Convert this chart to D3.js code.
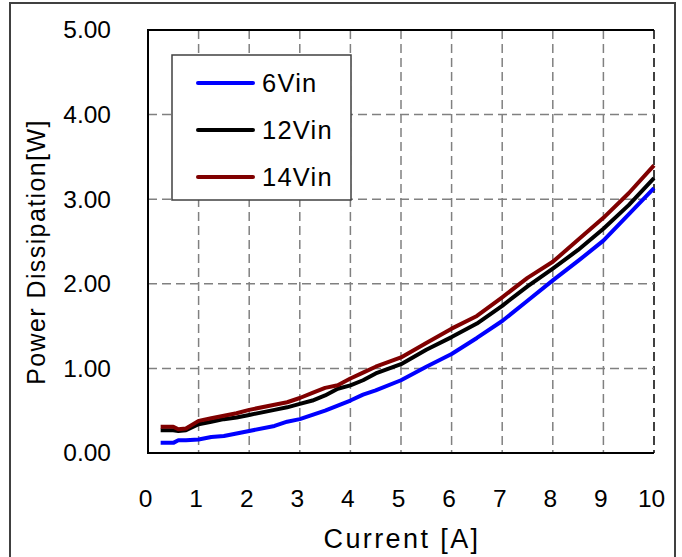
<!DOCTYPE html>
<html><head><meta charset="utf-8">
<script src="https://cdn.jsdelivr.net/npm/d3@7"></script>
<style>
html,body{margin:0;padding:0;background:#fff;}
svg text{font-family:"Liberation Sans",Arial,sans-serif;fill:#000;}
</style></head>
<body><svg id="c" width="682" height="557"></svg>
<script>
const current = [0.25,0.5,0.6,0.75,1,1.25,1.5,1.75,2,2.5,2.75,3,3.25,3.5,3.75,4,4.25,4.5,5,5.5,6,6.5,7,7.5,8,8.5,9,9.5,10];
const v6  = [0.12,0.12,0.15,0.15,0.16,0.19,0.20,0.23,0.26,0.32,0.37,0.40,0.45,0.50,0.56,0.62,0.69,0.74,0.86,1.02,1.17,1.36,1.56,1.80,2.04,2.27,2.51,2.82,3.13];
const v12 = [0.27,0.27,0.26,0.27,0.34,0.37,0.40,0.42,0.45,0.51,0.54,0.58,0.62,0.68,0.76,0.80,0.86,0.94,1.05,1.22,1.37,1.53,1.74,1.97,2.18,2.40,2.65,2.93,3.25];
const v14 = [0.31,0.31,0.28,0.29,0.38,0.41,0.44,0.47,0.51,0.57,0.60,0.65,0.71,0.77,0.80,0.88,0.95,1.02,1.13,1.30,1.47,1.62,1.84,2.07,2.26,2.52,2.78,3.07,3.40];
const seriesNames = ["6Vin","12Vin","14Vin"];
const seriesColors = ["#0000ff","#000000","#800000"];
const xTicks = [0,1,2,3,4,5,6,7,8,9,10];
const yTicks = [0,1,2,3,4,5];
const xTitle = "Current [A]";
const yTitle = "Power Dissipation[W]";

const svg = d3.select("#c");
const L=148, R=654, T=30, B=453;
const x = d3.scaleLinear().domain([0,10]).range([L,R]);
const y = d3.scaleLinear().domain([0,5]).range([B,T]);

// outer frame
svg.append("rect").attr("x",10).attr("y",3).attr("width",665).attr("height",570)
  .attr("fill","none").attr("stroke","#404040").attr("stroke-width",2);

// grid
const g = svg.append("g");
g.selectAll(".vg").data(xTicks.filter(d=>d>0)).join("line")
  .attr("x1",d=>x(d)).attr("x2",d=>x(d)).attr("y1",T).attr("y2",B)
  .attr("stroke",d=>d===10?"#404040":"#808080").attr("stroke-width",d=>d===10?2:1.5).attr("stroke-dasharray","9,5");
g.selectAll(".hg").data(yTicks.filter(d=>d>0&&d<5)).join("line")
  .attr("x1",L).attr("x2",R).attr("y1",d=>y(d)).attr("y2",d=>y(d))
  .attr("stroke","#808080").attr("stroke-width",1.5).attr("stroke-dasharray","9,5");

// axes frame
svg.append("path").attr("d",`M${R},${T}H${L}V${B}H${R}`).attr("fill","none")
  .attr("stroke","#000").attr("stroke-width",2);

// tick labels
const yAxis = d3.axisLeft(y).tickValues(yTicks).tickFormat(d3.format(".2f")).tickSize(0).tickPadding(37);
const ya = svg.append("g").attr("transform",`translate(${L},0)`).call(yAxis);
ya.select(".domain").remove();
ya.selectAll("text").attr("font-size",24.5).style("font-family",'"Liberation Sans",Arial,sans-serif');

const xAxis = d3.axisBottom(x).tickValues(xTicks).tickFormat(d3.format("d")).tickSize(0).tickPadding(37);
const xa = svg.append("g").attr("transform",`translate(0,${B})`).call(xAxis);
xa.select(".domain").remove();
xa.selectAll("text").attr("font-size",24.5).attr("dx",-3).style("font-family",'"Liberation Sans",Arial,sans-serif');

// titles
svg.append("text").attr("x",(L+R)/2+1).attr("y",548).attr("text-anchor","middle")
  .attr("font-size",27).attr("letter-spacing",2.4).text(xTitle);
svg.append("text").attr("transform",`translate(45,252) rotate(-90)`).attr("text-anchor","middle")
  .attr("font-size",25).attr("letter-spacing",1.4).text(yTitle);

// lines
const data = [v6,v12,v14];
const line = d3.line().x((d,i)=>x(current[i])).y(d=>y(d));
svg.append("g").selectAll("path").data(data).join("path")
  .attr("d",d=>line(d)).attr("fill","none")
  .attr("stroke",(d,i)=>seriesColors[i]).attr("stroke-width",4).attr("stroke-linejoin","round");

// legend
const lg = svg.append("g");
lg.append("rect").attr("x",172).attr("y",55).attr("width",179).attr("height",145)
  .attr("fill","#fff").attr("stroke","#404040").attr("stroke-width",1.5);
const ly = [83,130,177];
seriesNames.forEach((n,i)=>{
  lg.append("line").attr("x1",198).attr("x2",253).attr("y1",ly[i]).attr("y2",ly[i])
    .attr("stroke",seriesColors[i]).attr("stroke-width",4).attr("stroke-linecap","round");
  lg.append("text").attr("x",262).attr("y",ly[i]+9).attr("font-size",25.5).attr("letter-spacing",1.2).text(n);
});
</script></body></html>
